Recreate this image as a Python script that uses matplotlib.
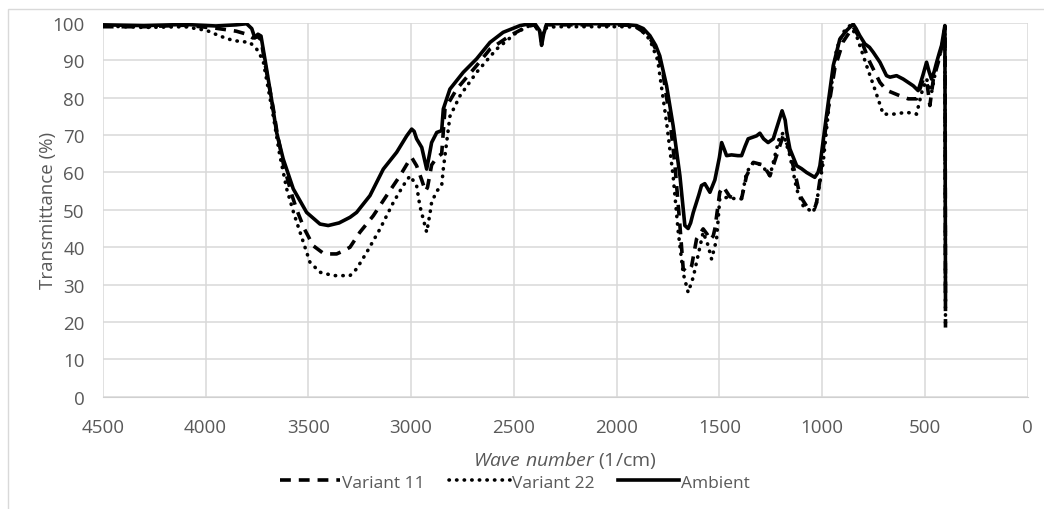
import matplotlib
matplotlib.use('Agg')
import matplotlib.pyplot as plt
from matplotlib.patches import Rectangle

plt.rcParams['font.family'] = ['Open Sans', 'DejaVu Sans']
plt.rcParams['mathtext.fontset'] = 'custom'
plt.rcParams['mathtext.it'] = 'Open Sans:italic'
plt.rcParams['mathtext.rm'] = 'Open Sans'

# Variant 11 (dashed)
wn_v11 = [4500, 4300, 4100, 3950, 3850, 3800, 3770, 3745, 3730, 3710, 3690, 3670, 3650,
          3620, 3580, 3556, 3520, 3476, 3430, 3394, 3362, 3330, 3297, 3249, 3184, 3119,
          3054, 3005, 2997, 2973, 2948, 2930, 2920, 2900, 2875, 2851, 2835, 2778, 2681,
          2616, 2519, 2438, 2400, 2370, 2365, 2358, 2340, 2100, 1920, 1880, 1838, 1800,
          1773, 1741, 1716, 1692, 1676, 1660, 1645, 1635, 1611, 1579, 1560, 1546, 1530,
          1522, 1498, 1481, 1449, 1392, 1368, 1335, 1287, 1254, 1222, 1190, 1165, 1133,
          1108, 1076, 1036, 1027, 1011, 979, 938, 898, 849, 808, 768, 719, 687, 621, 581,
          541, 508, 490, 476, 459, 435, 411, 402, 400]
t_v11 = [99, 99, 99.4, 98.6, 97.8, 97, 96, 96.3, 95.5, 89, 83, 77, 70,
         62, 54, 50, 45, 40.4, 38.5, 38.2, 38.2, 39, 40, 44, 48.4, 53.8,
         59.1, 63.6, 64, 61.8, 58, 55, 56, 62, 64, 65, 77, 82.3, 88.6,
         93, 96.6, 99, 99.5, 97, 95, 97.5, 99.5, 99.5, 99.4, 98, 96, 92,
         86, 74.3, 61.8, 45.8, 34.2, 33.5, 34, 35, 42.2, 44.9, 43.5, 42, 43,
         44.9, 54.7, 56.2, 53.5, 53, 59.1, 62.7, 62, 59.1, 64.5, 69.8, 67, 60,
         53.8, 51, 50.5, 52, 58, 74, 88, 95, 99, 95, 89.5, 84.1, 82, 80.5, 79.7,
         79.7, 85, 84, 77.9, 85, 89.5, 95.4, 99, 18.5]

# Variant 22 (dotted)
wn_v22 = [4500, 4300, 4100, 3994, 3930, 3866, 3820, 3784, 3751, 3720, 3700, 3670, 3640,
          3605, 3570, 3540, 3492, 3443, 3378, 3297, 3265, 3216, 3151, 3086, 3038, 3005,
          2973, 2957, 2924, 2908, 2900, 2875, 2851, 2843, 2811, 2762, 2681, 2584, 2486,
          2422, 2380, 2365, 2355, 2300, 2100, 1950, 1900, 1870, 1838, 1800, 1757, 1725,
          1700, 1676, 1652, 1627, 1603, 1579, 1555, 1538, 1514, 1498, 1465, 1425, 1392,
          1368, 1335, 1295, 1254, 1206, 1190, 1157, 1124, 1092, 1044, 1027, 995, 962,
          930, 898, 865, 833, 784, 744, 703, 654, 589, 541, 516, 492, 468, 443, 419,
          403, 400]
t_v22 = [99.2, 98.8, 99, 98, 96.5, 95.3, 95, 94.8, 93, 90, 84, 75, 65,
         55.6, 49, 44, 36, 33.3, 32.4, 32.4, 34.2, 38.6, 44.9, 52, 56.5, 59.1,
         56.5, 51, 44, 49, 52, 55, 56.5, 61, 75, 80.5, 86.8, 93, 97.5,
         99.3, 99, 95.5, 98.5, 99, 99, 99, 98.8, 97.5, 95.5, 90, 73.4, 59,
         44, 33, 27.9, 32, 38, 44, 40.5, 36.8, 42, 53, 53.3, 53, 53,
         60, 62.7, 62, 59.1, 69.8, 70.5, 64.5, 55.5, 51, 49.3, 52, 62.7, 80.5,
         93, 97.5, 99.3, 96.6, 88.6, 82.3, 75.6, 75.6, 76.1, 75.6, 81.3, 85, 81.3, 88.6, 93,
         99.3, 18.5]

# Ambient (solid)
wn_amb = [4500, 4300, 4100, 3950, 3850, 3800, 3775, 3760, 3745, 3730, 3710, 3695, 3680,
          3654, 3622, 3573, 3508, 3443, 3403, 3350, 3297, 3265, 3200, 3135, 3070, 3021,
          2997, 2985, 2973, 2948, 2924, 2910, 2900, 2875, 2851, 2843, 2811, 2746, 2681,
          2616, 2552, 2470, 2400, 2375, 2365, 2355, 2340, 2200, 2000, 1903, 1870, 1838,
          1810, 1790, 1757, 1725, 1692, 1668, 1652, 1640, 1627, 1600, 1587, 1571, 1546,
          1522, 1500, 1489, 1475, 1465, 1441, 1410, 1392, 1375, 1360, 1319, 1303, 1285,
          1263, 1238, 1215, 1195, 1180, 1173, 1157, 1124, 1100, 1076, 1036, 1020, 1011,
          979, 946, 914, 881, 849, 835, 817, 792, 770, 752, 719, 687, 670, 638, 606, 557,
          533, 510, 492, 480, 468, 455, 443, 430, 419, 403, 400]
t_amb = [99.5, 99.3, 99.6, 99.2, 99.5, 99.8, 98.5, 96, 97, 96.5, 90, 85, 80,
         70.7, 63.6, 55.6, 49.3, 46.2, 45.8, 46.5, 48, 49.3, 53.8, 60.9, 65.4, 69.8,
         71.6, 71, 69, 66.7, 60.9, 65, 68, 70.7, 71.2, 77, 82.3, 86.8, 90.4,
         94.8, 97.5, 99.3, 100, 98, 94, 97, 99.8, 99.8, 99.8, 99.3, 98.5, 96.6,
         94, 91.2, 83.2, 72.5, 59.1, 45.8, 45, 46.5, 49.3, 54, 56.5, 57, 54.7,
         58, 64, 68, 66, 64.5, 64.7, 64.5, 64.5, 67, 69, 69.8, 70.5, 69,
         68, 69, 73, 76.5, 74, 71, 66.3, 61.8, 61, 60, 58.7, 60, 61.8,
         75.2, 88.6, 95.7, 98, 99.7, 98.5, 96.6, 94.4, 93.5, 92.2, 89.5, 85.9, 85.5, 85.9, 85, 83.2,
         81.9, 86, 89.5, 87, 85, 87, 89.5, 92, 94, 99.3, 26]

x_ticks = [4500, 4000, 3500, 3000, 2500, 2000, 1500, 1000, 500, 0]
y_ticks = [0, 10, 20, 30, 40, 50, 60, 70, 80, 90, 100]

grey = '#595959'
fig = plt.figure(figsize=(10.44, 5.10), dpi=100)
ax = fig.add_axes([0.0984, 0.2202, 0.886, 0.7328])

lw = 2.6
ax.plot(wn_v11, t_v11, color='black', lw=lw, linestyle=(0, (3.0, 2.2)),
        label='Variant 11')
ax.plot(wn_v22, t_v22, color='black', lw=lw, linestyle=(0, (0.1, 2.0)),
        dash_capstyle='round', label='Variant 22')
ax.plot(wn_amb, t_amb, color='black', lw=lw, label='Ambient')

ax.set_xlim(4500, 0)
ax.set_ylim(0, 100)
ax.set_xticks(x_ticks)
ax.set_yticks(y_ticks)
ax.grid(True, color='#D9D9D9', lw=1.1)
ax.set_axisbelow(True)
for s in ['left', 'right', 'top']:
    ax.spines[s].set_visible(False)
ax.spines['bottom'].set_color('#D0D0D0')
ax.tick_params(length=0, labelsize=13.5, labelcolor=grey)
ax.tick_params(axis='x', pad=15)
ax.tick_params(axis='y', pad=13)

ax.set_ylabel('Transmittance (%)', fontsize=13.5, color=grey, labelpad=-3)
ax.set_xlabel(r'$\mathit{Wave\ number}$ (1/cm)', fontsize=14, color=grey, labelpad=10)

ax.legend(loc='center', bbox_to_anchor=(0.493, 0.052), bbox_transform=fig.transFigure,
          ncol=3, frameon=False, fontsize=12.5, labelcolor=grey,
          handlelength=3.5, handletextpad=0.1, columnspacing=1.4)

fig.add_artist(Rectangle((8 / 1044, -0.1), 1.2, 1 - 10 / 510 + 0.1,
                         transform=fig.transFigure, fill=False,
                         edgecolor='#D9D9D9', lw=1.0))

fig.savefig('out.png', dpi=100)
